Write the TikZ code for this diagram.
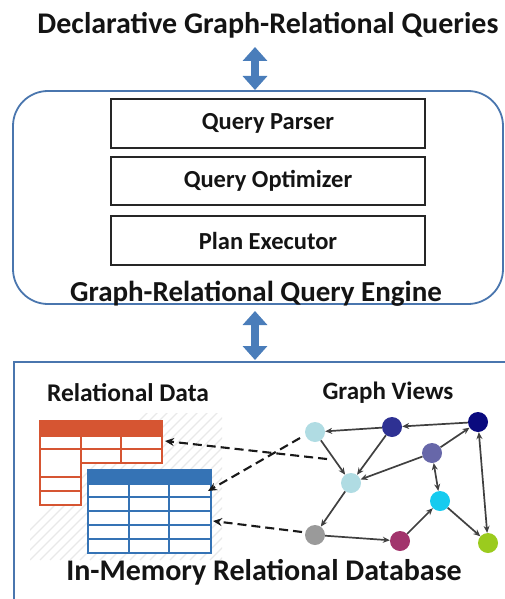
\documentclass[tikz,border=0pt]{standalone}
\usepackage{fontspec}
\setmainfont{Carlito}
\usetikzlibrary{arrows.meta,calc}

\definecolor{frameblue}{HTML}{4A76AE}
\definecolor{arrowblue}{HTML}{4A7DBA}
\definecolor{tabred}{HTML}{D65532}
\definecolor{tabblue}{HTML}{3573B5}
\definecolor{hatch}{HTML}{E9E9E9}
\definecolor{txt}{HTML}{141414}
\definecolor{nlight}{HTML}{B0DCE3}
\definecolor{nindigo}{HTML}{2E3193}
\definecolor{nnavy}{HTML}{0A0A7E}
\definecolor{nslate}{HTML}{6767A9}
\definecolor{ncyan}{HTML}{16CBEF}
\definecolor{ngrey}{HTML}{9A9A9A}
\definecolor{nplum}{HTML}{A2346C}
\definecolor{nlime}{HTML}{9BCB1E}

\tikzset{
  lbl/.style={font=\bfseries, text=txt, inner sep=0pt},
  stagebox/.style={draw=black!85, line width=1.8pt, minimum width=314pt, inner sep=0pt,
    font=\fontsize{24.5}{26}\selectfont\bfseries, text=txt},
  bigarrow/.style={arrowblue, line width=8.5pt,
    {Triangle[length=14pt,width=24pt]}-{Triangle[length=14pt,width=24pt]}},
  gnode/.style={circle, minimum size=20pt, inner sep=0pt},
  gedge/.style={draw=black!75, line width=1.7pt, -{Stealth[length=7pt,width=6pt]}},
  gboth/.style={draw=black!75, line width=1.7pt, {Stealth[length=7pt,width=6pt]}-{Stealth[length=7pt,width=6pt]}},
  viewlink/.style={draw=black!90, line width=2.1pt, dash pattern=on 9pt off 5pt,
    -{Stealth[length=9pt,width=8pt]}},
}

\begin{document}
\begin{tikzpicture}[x=1pt, y=-1pt]
\useasboundingbox (0,0) rectangle (505,599);
\clip (0,0) rectangle (505,599);

% ---------- top: query language and engine ----------
\node[lbl, font=\fontsize{30}{32}\selectfont\bfseries] (queries) at (268,25)
  {Declarative Graph-Relational Queries};

\node[draw=frameblue, line width=1.8pt, rounded corners=35pt,
      minimum width=490pt, minimum height=213pt, inner sep=0pt] (engine) at (258,197.5) {};

\node[stagebox, minimum height=49pt] (parser) at (268,123.5) {Query Parser};
\node[stagebox, minimum height=48pt] (optimizer) at (268,181) {Query Optimizer};
\node[stagebox, minimum height=49pt] (executor) at (268,240.5) {Plan Executor};

\node[lbl, font=\fontsize{29}{31}\selectfont\bfseries] (enginelbl) at (256,294)
  {Graph-Relational Query Engine};

% ---------- bottom: in-memory database ----------
\node[draw=frameblue, line width=1.8pt, minimum width=520pt, minimum height=280pt,
      inner sep=0pt, anchor=north west] (db) at (13,361) {};

% double arrows between the layers
\coordinate (qa) at (255,47);
\coordinate (qb) at (255,90);
\draw[bigarrow] (qa) -- (qb);
\coordinate (ea) at (255,311);
\coordinate (eb) at (255,360);
\draw[bigarrow] (ea) -- (eb);

\node[lbl, font=\fontsize{25.5}{27}\selectfont\bfseries] (reldata) at (128,393) {Relational Data};
\node[lbl, font=\fontsize{25}{27}\selectfont\bfseries] (gviews) at (388,393) {Graph Views};
\node[lbl, font=\fontsize{30}{32}\selectfont\bfseries] (dblbl) at (264,572)
  {In-Memory Relational Database};

% hatched backdrop behind the tables
\begin{scope}
  \clip (30,413) rectangle (222,560);
  \foreach \k in {0,10,...,360}
    \draw[hatch, line width=1.1pt] (\k,560) -- ++(160,-160);
\end{scope}

% red table
\fill[white] (40,436) -- (40,505) -- (81,505) -- (81,463) -- (162,463) -- (162,436) -- cycle;
\fill[tabred] (40,421) rectangle (162,436);
\begin{scope}[tabred, line width=2pt]
  \draw (40,436) -- (40,505) -- (81,505) -- (81,463) -- (162,463) -- (162,436) -- cycle;
  \draw (40,421) rectangle (162,436);
  \draw (40,449) -- (162,449);
  \draw (40,477) -- (81,477);
  \draw (40,491) -- (81,491);
  \draw (81,436) -- (81,463);
  \draw (121,436) -- (121,463);
\end{scope}
\coordinate (redport) at (165,441);

% blue table
\fill[white] (88,484) rectangle (211,553);
\fill[tabblue] (88,470) rectangle (211,484);
\begin{scope}[tabblue, line width=2pt]
  \draw (88,470) rectangle (211,553);
  \foreach \yy in {484,497,511,525,539} \draw (88,\yy) -- (211,\yy);
  \draw (129,484) -- (129,553);
  \draw (169,484) -- (169,553);
\end{scope}
\coordinate (blueportA) at (208,491);
\coordinate (blueportB) at (213,521);

% graph view
\node[gnode, fill=nlight]  (A) at (315,432) {};
\node[gnode, fill=nindigo] (B) at (392,427) {};
\node[gnode, fill=nnavy]   (C) at (478,422) {};
\node[gnode, fill=nslate]  (D) at (432,453) {};
\node[gnode, fill=nlight]  (E) at (351,483) {};
\node[gnode, fill=ncyan]   (F) at (440,501) {};
\node[gnode, fill=ngrey]   (G) at (315,535) {};
\node[gnode, fill=nplum]   (H) at (400,541) {};
\node[gnode, fill=nlime]   (I) at (488,543) {};

\draw[gedge] (B) -- (A);
\draw[gedge] (C) -- (B);
\draw[gedge] (B) -- (E);
\draw[gedge] (A) -- (E);
\draw[gedge] (D) -- (E);
\draw[gedge] (D) -- (C);
\draw[gboth] (D) -- (F);
\draw[gboth] (C) -- (I);
\draw[gedge] (E) -- (G);
\draw[gedge] (G) -- (H);
\draw[gedge] (H) -- (F);
\draw[gedge] (F) -- (I);

% view-to-table links
\coordinate (linkA) at (327,459);
\coordinate (linkB) at (300,438);
\coordinate (linkC) at (302,532);
\draw[viewlink] (linkA) -- (redport);
\draw[viewlink] (linkB) -- (blueportA);
\draw[viewlink] (linkC) -- (blueportB);
\end{tikzpicture}
\end{document}
